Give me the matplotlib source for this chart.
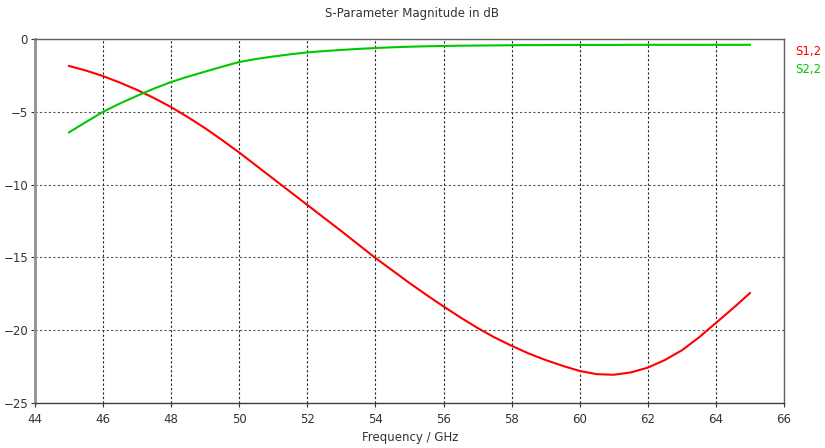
import matplotlib
matplotlib.use("Agg")
import matplotlib.pyplot as plt

freq = [45, 45.5, 46, 46.5, 47, 47.5, 48, 48.5, 49, 49.5, 50, 50.5, 51, 51.5, 52, 52.5,
        53, 53.5, 54, 54.5, 55, 55.5, 56, 56.5, 57, 57.5, 58, 58.5, 59, 59.5, 60, 60.5,
        61, 61.5, 62, 62.5, 63, 63.5, 64, 64.5, 65]
s12 = [-1.85, -2.17, -2.55, -3.0, -3.5, -4.06, -4.68, -5.38, -6.13, -6.95, -7.8, -8.7,
       -9.6, -10.5, -11.4, -12.3, -13.2, -14.12, -15.04, -15.9, -16.76, -17.58, -18.37,
       -19.13, -19.85, -20.5, -21.07, -21.6, -22.05, -22.45, -22.8, -23.02, -23.06, -22.9,
       -22.57, -22.05, -21.38, -20.5, -19.5, -18.5, -17.45]
s22 = [-6.41, -5.7, -5.0, -4.42, -3.9, -3.4, -2.95, -2.58, -2.24, -1.9, -1.58, -1.37,
       -1.2, -1.05, -0.92, -0.83, -0.75, -0.68, -0.62, -0.57, -0.53, -0.5, -0.48, -0.46,
       -0.45, -0.44, -0.43, -0.42, -0.42, -0.41, -0.41, -0.41, -0.41, -0.40, -0.40,
       -0.40, -0.40, -0.40, -0.40, -0.40, -0.40]
series_names = ["S1,2", "S2,2"]
series_colors = ["#ff0000", "#00c800"]
xticks = list(range(44, 67, 2))
yticks = [-25, -20, -15, -10, -5, 0]

plt.rcParams['font.family'] = ['DejaVu Sans']
fig = plt.figure(figsize=(8.25, 4.48), dpi=100)
ax = fig.add_axes([35/825, 1 - 403/448, (784-35)/825, (403-39)/448])

ax.plot(freq, s12, color=series_colors[0], lw=1.5, zorder=3)
ax.plot(freq, s22, color=series_colors[1], lw=1.5, zorder=3)

ax.set_xlim(44, 66)
ax.set_ylim(-25, 0)
ax.set_xticks(xticks)
ax.set_yticks(yticks)
ax.tick_params(axis='both', labelsize=8.5, colors='#333333', length=3, width=0.8, pad=2)
ax.tick_params(axis='x', pad=4)
ax.xaxis.grid(True, color='#222222', linestyle=(0, (2, 2)), linewidth=0.8)
ax.yaxis.grid(True, color='#555555', linestyle=(0, (2, 2)), linewidth=0.8)

ax.spines['left'].set_color('#909090')
ax.spines['left'].set_linewidth(2)
ax.spines['bottom'].set_color('#404040')
ax.spines['bottom'].set_linewidth(1)
ax.spines['top'].set_color('#606060')
ax.spines['top'].set_linewidth(1)
ax.spines['right'].set_color('#606060')
ax.spines['right'].set_linewidth(1)

fig.text(412/825, 1 - 14/448, "S-Parameter Magnitude in dB", ha='center', va='center',
         fontsize=8.5, color='#333333')
fig.text(410/825, 1 - 437/448, "Frequency / GHz", ha='center', va='center',
         fontsize=8.5, color='#333333')
fig.text(795/825, 1 - 51/448, series_names[0], ha='left', va='center', fontsize=8.5,
         color=series_colors[0])
fig.text(795/825, 1 - 69/448, series_names[1], ha='left', va='center', fontsize=8.5,
         color=series_colors[1])

fig.savefig("out.png", dpi=100)
